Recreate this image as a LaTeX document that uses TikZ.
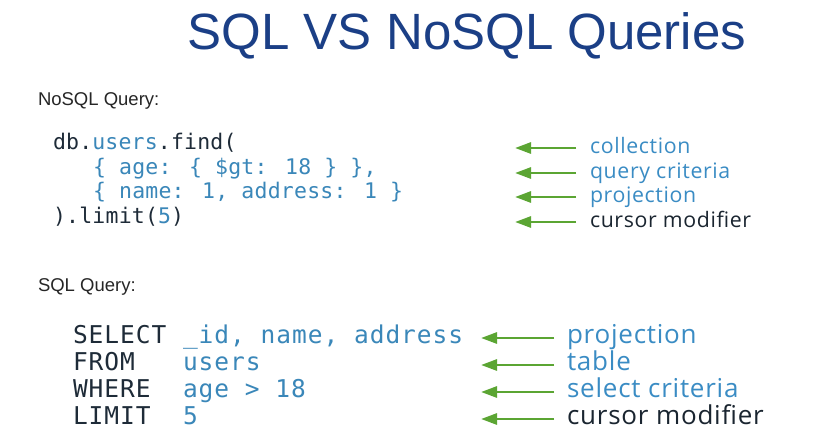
\documentclass[tikz,border=0pt]{standalone}
\usepackage{fontspec}
\setmainfont{Liberation Sans}
\newfontfamily\codefontA[LetterSpace=1]{DejaVu Sans Mono}
\newfontfamily\codefontB[LetterSpace=4]{DejaVu Sans Mono}
\newfontfamily\labfont[LetterSpace=3]{Open Sans}
\usetikzlibrary{arrows.meta}
\definecolor{titleblue}{HTML}{1B3F86}
\definecolor{codedark}{HTML}{1E2B38}
\definecolor{codeblue}{HTML}{3A87B9}
\definecolor{labblue}{HTML}{3A8CC4}
\definecolor{labdark}{HTML}{1A2530}
\definecolor{arrgreen}{HTML}{5BA533}
\tikzset{
  every node/.style={inner sep=0pt, outer sep=0pt, anchor=base west},
  title/.style={font=\fontsize{51}{51}\selectfont, text=titleblue, anchor=base},
  heading/.style={font=\fontsize{18.5}{18.5}\selectfont, text=black!85},
  nocode/.style={font=\codefontA\fontsize{21.5}{21.5}\selectfont, text=codedark},
  sqlcode/.style={font=\codefontB\fontsize{24.5}{24.5}\selectfont, text=codedark},
  nolab/.style={font=\labfont\fontsize{21.3}{21.3}\selectfont, text=labblue},
  sqllab/.style={font=\labfont\fontsize{26}{26}\selectfont, text=labblue},
  garrow/.style={draw=arrgreen, line width=2.8pt, -{Triangle[length=16pt,width=11pt]}}
}
\begin{document}
\begin{tikzpicture}[x=1pt,y=-1pt]
\useasboundingbox (0,0) rectangle (827,442);
\fill[white] (0,0) rectangle (827,442);

\node[title] (title) at (467,49) {SQL VS NoSQL Queries};

\node[heading] (nohead) at (38,105) {NoSQL Query:};
\node[heading] (sqlhead) at (38,291) {SQL Query:};

% NoSQL code
\node[nocode] (n1) at (53,149) {db.{\color{codeblue}users}.find(};
\node[nocode, text=codeblue] (n2) at (93,174) {\{ age: \{ \$gt: 18 \} \},};
\node[nocode, text=codeblue] (n3) at (93,198) {\{ name: 1, address: 1 \}};
\node[nocode] (n4) at (53,223) {).limit({\color{codeblue}5})};

% NoSQL labels
\node[nolab] (nl1) at (590,153) {collection};
\node[nolab] (nl2) at (590,178) {query criteria};
\node[nolab] (nl3) at (590,202) {projection};
\node[nolab, text=labdark] (nl4) at (590,227) {cursor modifier};

% NoSQL arrows
\foreach \i/\y in {1/148,2/173,3/197,4/222}{
  \coordinate (nt\i) at (515,\y);
  \coordinate (ns\i) at (576,\y);
  \draw[garrow] (ns\i) -- (nt\i);
}

% SQL code
\node[sqlcode] (k1) at (73,343) {SELECT};
\node[sqlcode] (k2) at (73,370) {FROM};
\node[sqlcode] (k3) at (73,397) {WHERE};
\node[sqlcode] (k4) at (73,424) {LIMIT};
\node[sqlcode, text=codeblue] (v1) at (183,343) {\symbol{95}id, name, address};
\node[sqlcode, text=codeblue] (v2) at (183,370) {users};
\node[sqlcode, text=codeblue] (v3) at (183,397) {age > 18};
\node[sqlcode, text=codeblue] (v4) at (183,424) {5};

% SQL labels
\node[sqllab] (sl1) at (567,343) {projection};
\node[sqllab] (sl2) at (567,370) {table};
\node[sqllab] (sl3) at (567,397) {select criteria};
\node[sqllab, text=labdark] (sl4) at (567,424) {cursor modifier};

% SQL arrows
\foreach \i/\y in {1/338,2/365,3/392,4/419}{
  \coordinate (st\i) at (481,\y);
  \coordinate (ss\i) at (554,\y);
  \draw[garrow] (ss\i) -- (st\i);
}
\end{tikzpicture}
\end{document}
